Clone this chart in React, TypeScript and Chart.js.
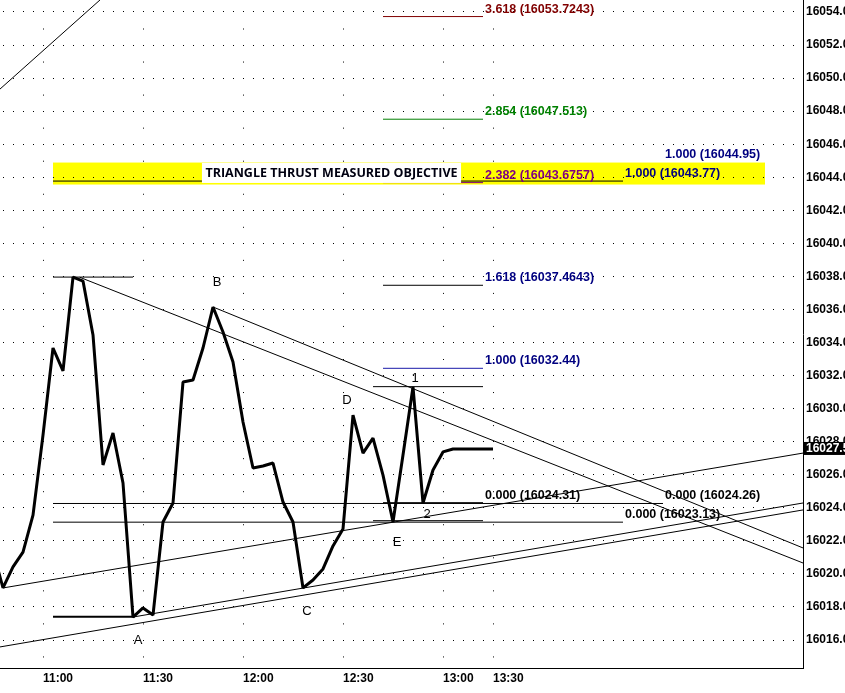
import React, { useEffect, useRef } from "react";
import { Chart, registerables } from "chart.js";

Chart.register(...registerables);

// ---- data (time = minutes after 11:00, 3-minute bars) ----
const priceMinutes = [-15, -12, -9, -6, -3, 0, 3, 6, 9, 12, 15, 18, 21, 24, 27, 30, 33, 36, 39, 42, 45, 48, 51, 54, 57, 60, 63, 66, 69, 72, 75, 78, 81, 84, 87, 90, 93, 96, 99, 102, 105, 108, 111, 114, 117, 120, 123, 126, 129, 132, 135];
const priceValues = [16021.38, 16019.15, 16020.42, 16021.32, 16023.56, 16028.4, 16033.67, 16032.28, 16037.96, 16037.72, 16034.46, 16026.59, 16028.53, 16025.5, 16017.39, 16017.94, 16017.51, 16023.14, 16024.29, 16031.61, 16031.73, 16033.67, 16036.15, 16034.64, 16032.82, 16029.19, 16026.41, 16026.53, 16026.71, 16024.35, 16023.14, 16019.15, 16019.63, 16020.3, 16021.69, 16022.72, 16029.61, 16027.31, 16028.22, 16025.98, 16023.14, 16027.19, 16031.31, 16024.29, 16026.29, 16027.38, 16027.56, 16027.56, 16027.56, 16027.56, 16027.56];

const xTickMinutes = [0, 30, 60, 90, 120, 135];
const xTickLabels = ["11:00", "11:30", "12:00", "12:30", "13:00", "13:30"];
const yTickValues = [16016, 16018, 16020, 16022, 16024, 16026, 16028, 16030, 16032, 16034, 16036, 16038, 16040, 16042, 16044, 16046, 16048, 16050, 16052, 16054];
const xRange = [-12.9, 228];
const yRange = [16014.306, 16054.726];

// Fibonacci extension (0.000 -> 1.000)
const fibZero = 16024.31;
const fibOne = 16032.44;
const fibRatios = [0, 1, 1.618, 2.382, 2.854, 3.618];
const fibLineColors = ["#000000", "#1a1aa8", "#000000", "#800080", "#008000", "#800000"];
const fibLabelColors = ["#000000", "#000080", "#000080", "#800080", "#008000", "#800000"];
const fibSpan = [102, 132];

// Measured-objective tools
const toolARatios = ["0.000", "1.000"];
const toolAValues = [16023.13, 16043.77];
const toolASpan = [3, 174];
const toolBRatios = ["0.000", "1.000"];
const toolBValues = [16024.26, 16044.95];
const toolBSpan = [3, 186];
const toolLabelColors = ["#000000", "#000080"];

// Trend lines: [t1, v1, t2, v2]
const trendLines = [
  [11, 16037.95, 228, 16020.66],
  [51, 16036.15, 228, 16021.57],
  [-12, 16019.15, 228, 16027.31],
  [-13, 16015.577, 228, 16023.87],
  [27, 16017.39, 228, 16024.29],
  [-15, 16048.96, 20, 16055.25],
];

// Short horizontal markers: [value, tStart, tEnd, width]
const markerLines = [
  [16037.96, 3, 27, 1],
  [16017.4, 3, 27, 2],
  [16031.33, 99, 132, 1],
  [16023.22, 99, 132, 1],
];

// Wave labels
const waveLabels = ["A", "B", "C", "D", "E", "1", "2"];
const waveLabelMinutes = [28.5, 52.2, 79.2, 91.2, 106.2, 111.6, 115.2];
const waveLabelValues = [16016.0, 16037.66, 16017.75, 16030.52, 16021.93, 16031.85, 16023.62];

// Objective band and note
const bandMinutes = [3, 216.6];
const bandValues = [16043.56, 16044.89];
const noteText = "TRIANGLE THRUST MEASURED OBJECTIVE";
const noteMinute = 86.55;
const noteValue = 16044.23;

const FONT = "'Liberation Sans', Arial, sans-serif";

function fmt(v: number) {
  return String(Number(v.toFixed(4)));
}

function seg(x1: number, y1: number, x2: number, y2: number, color: string, width = 1) {
  return {
    data: [
      { x: x1, y: y1 },
      { x: x2, y: y2 },
    ],
    borderColor: color,
    borderWidth: width,
    pointRadius: 0,
    fill: false,
    tension: 0,
  };
}

const overlayPlugin = {
  id: "overlay",
  beforeDraw(chart: any) {
    const { ctx, width, height } = chart;
    const x = chart.scales.x;
    const y = chart.scales.y;
    ctx.save();
    ctx.fillStyle = "#ffffff";
    ctx.fillRect(0, 0, width, height);
    const bx1 = x.getPixelForValue(bandMinutes[0]);
    const bx2 = x.getPixelForValue(bandMinutes[1]);
    const by1 = y.getPixelForValue(bandValues[1]);
    const by2 = y.getPixelForValue(bandValues[0]);
    ctx.fillStyle = "#ffff00";
    ctx.fillRect(bx1, by1, bx2 - bx1, by2 - by1);
    ctx.restore();
  },
  afterDraw(chart: any) {
    const { ctx } = chart;
    const x = chart.scales.x;
    const y = chart.scales.y;
    ctx.save();
    ctx.textBaseline = "middle";

    // note box
    ctx.font = `bold 12.5px 'Open Sans', ${FONT}`;
    const nx = x.getPixelForValue(noteMinute);
    const ny = y.getPixelForValue(noteValue);
    const w = ctx.measureText(noteText).width;
    ctx.fillStyle = "#ffffff";
    ctx.fillRect(nx - w / 2 - 3.5, ny - 10.5, w + 7, 20);
    ctx.fillStyle = "#000010";
    ctx.textAlign = "center";
    ctx.fillText(noteText, nx, ny);

    // level labels
    ctx.textAlign = "left";
    ctx.font = `bold 12.5px ${FONT}`;
    const label = (str: string, t: number, v: number, color: string) => {
      ctx.fillStyle = color;
      ctx.fillText(str, x.getPixelForValue(t) + 2, y.getPixelForValue(v) - 7.5);
    };
    fibRatios.forEach((r, i) => {
      const v = fibZero + r * (fibOne - fibZero);
      label(`${r.toFixed(3)} (${fmt(v)})`, fibSpan[1], v, fibLabelColors[i]);
    });
    toolAValues.forEach((v, i) => label(`${toolARatios[i]} (${fmt(v)})`, toolASpan[1], v, toolLabelColors[i]));
    toolBValues.forEach((v, i) => label(`${toolBRatios[i]} (${fmt(v)})`, toolBSpan[1], v, toolLabelColors[i]));

    // wave labels
    ctx.textAlign = "center";
    ctx.font = `13px ${FONT}`;
    ctx.fillStyle = "#000000";
    waveLabels.forEach((s, i) => {
      ctx.fillText(s, x.getPixelForValue(waveLabelMinutes[i]), y.getPixelForValue(waveLabelValues[i]));
    });

    // last price tag
    const last = priceValues[priceValues.length - 1];
    const ly = y.getPixelForValue(last);
    const area = chart.chartArea;
    ctx.fillStyle = "#000000";
    ctx.fillRect(area.right, ly - 7, chart.width - area.right, 13);
    ctx.fillStyle = "#ffffff";
    ctx.textAlign = "left";
    ctx.font = `bold 12px ${FONT}`;
    ctx.fillText(last.toFixed(2), area.right + 3, ly);
    ctx.restore();
  },
};

export default function App() {
  const ref = useRef<HTMLCanvasElement | null>(null);
  useEffect(() => {
    document.body.style.margin = "0";
    const datasets: any[] = [];
    datasets.push({
      data: priceMinutes.map((t, i) => ({ x: t, y: priceValues[i] })),
      borderColor: "#000000",
      borderWidth: 3,
      borderJoinStyle: "bevel",
      pointRadius: 0,
      fill: false,
      tension: 0,
    });
    trendLines.forEach((l) => datasets.push(seg(l[0], l[1], l[2], l[3], "#000000")));
    markerLines.forEach((m) => datasets.push(seg(m[1], m[0], m[2], m[0], "#000000", m[3])));
    fibRatios.forEach((r, i) => {
      const v = fibZero + r * (fibOne - fibZero);
      datasets.push(seg(fibSpan[0], v, fibSpan[1], v, fibLineColors[i]));
    });
    toolAValues.forEach((v) => datasets.push(seg(toolASpan[0], v, toolASpan[1], v, "#000000")));
    datasets.push(seg(toolBSpan[0], toolBValues[0], toolBSpan[1], toolBValues[0], "#000000"));

    const chart = new Chart(ref.current as HTMLCanvasElement, {
      type: "line",
      data: { datasets },
      options: {
        animation: false,
        responsive: true,
        maintainAspectRatio: false,
        devicePixelRatio: 1,
        layout: { padding: 0 },
        plugins: { legend: { display: false }, tooltip: { enabled: false } },
        scales: {
          x: {
            type: "linear",
            min: xRange[0],
            max: xRange[1],
            afterBuildTicks: (scale: any) => {
              scale.ticks = xTickMinutes.map((value) => ({ value }));
            },
            afterFit: (scale: any) => {
              scale.height = 25;
              scale.paddingLeft = 0;
              scale.paddingRight = 0;
              scale.paddingTop = 0;
              scale.paddingBottom = 0;
            },
            grid: { color: "#000000", lineWidth: 1, drawTicks: false },
            border: { display: true, color: "#000000", width: 1, dash: [1, 32.05], dashOffset: 4.55 },
            ticks: {
              autoSkip: false,
              maxRotation: 0,
              minRotation: 0,
              align: "start",
              padding: 3,
              color: "#000000",
              font: { family: FONT, size: 12, weight: "bold" },
              callback: (_v: any, i: number) => xTickLabels[i],
            },
          },
          y: {
            type: "linear",
            position: "right",
            min: yRange[0],
            max: yRange[1],
            afterBuildTicks: (scale: any) => {
              scale.ticks = yTickValues.map((value) => ({ value }));
            },
            afterFit: (scale: any) => {
              scale.width = 42;
              scale.paddingTop = 0;
              scale.paddingBottom = 0;
              scale.paddingLeft = 0;
              scale.paddingRight = 0;
            },
            grid: { color: "#000000", lineWidth: 1, drawTicks: false },
            border: { display: true, color: "#000000", width: 1, dash: [1, 9], dashOffset: 7 },
            ticks: {
              autoSkip: false,
              padding: 3,
              color: "#000000",
              font: { family: FONT, size: 12, weight: "bold" },
              callback: (v: any) => Number(v).toFixed(2),
            },
          },
        },
      } as any,
      plugins: [overlayPlugin],
    });
    return () => chart.destroy();
  }, []);
  return (
    <div style={{ position: "absolute", left: 0, top: 0, width: 845, height: 693 }}>
      <canvas ref={ref} />
    </div>
  );
}
